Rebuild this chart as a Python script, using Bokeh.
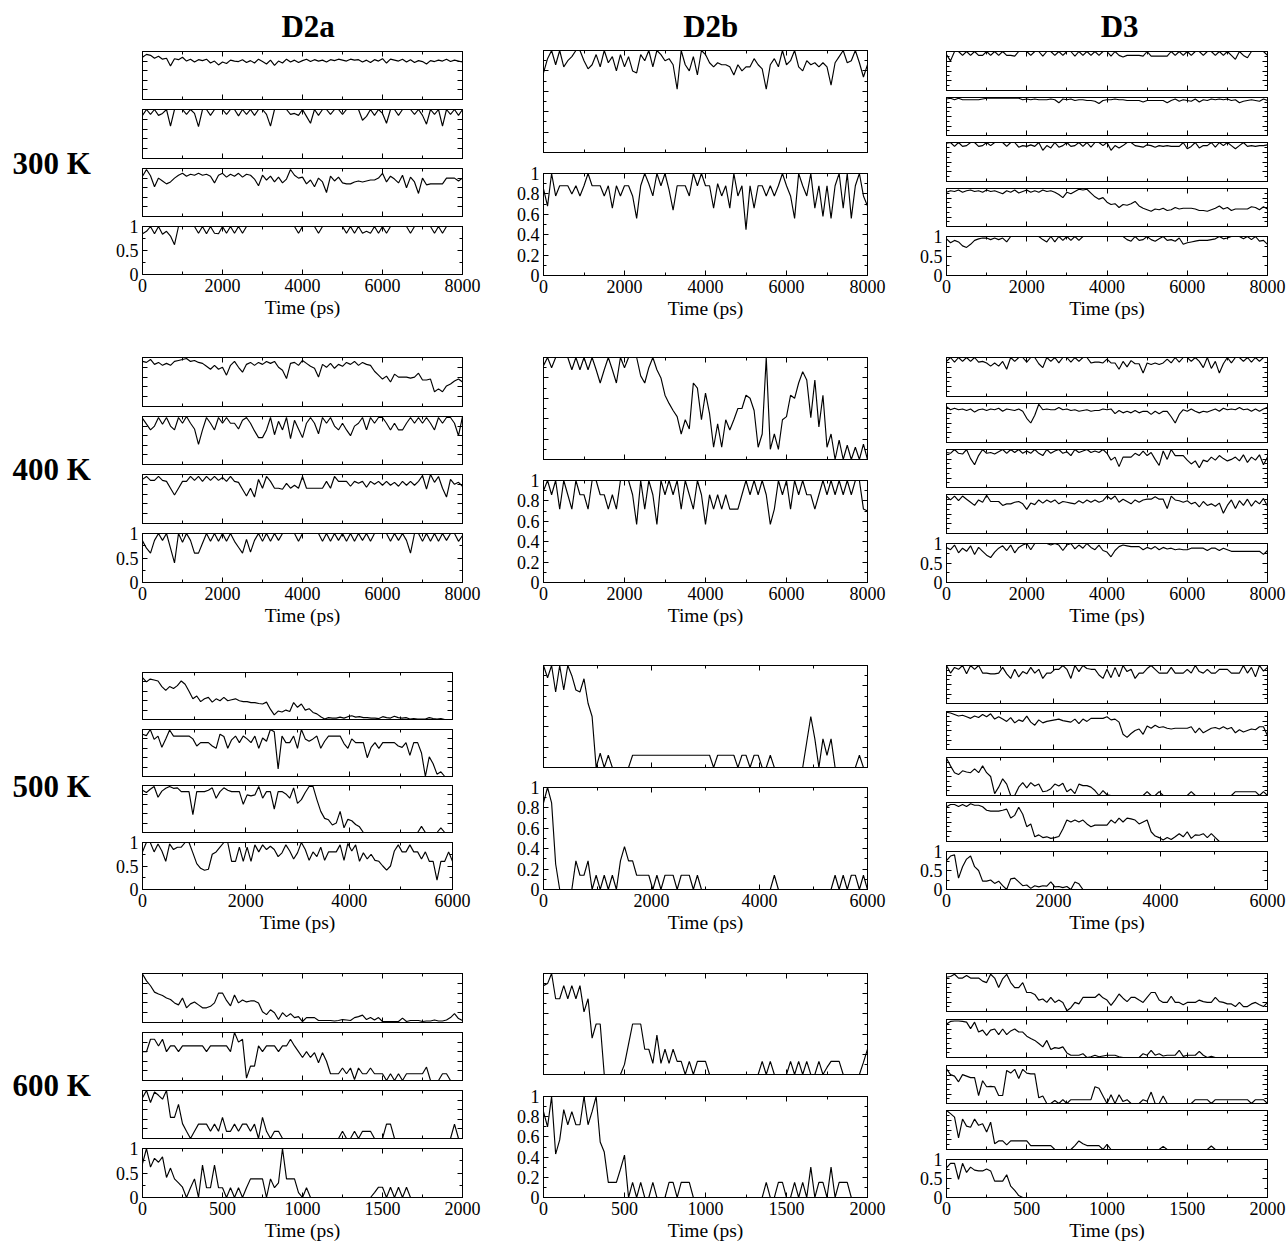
from bokeh.plotting import figure
from bokeh.layouts import row, column
from bokeh.models import (Range1d, LinearAxis, FixedTicker, Label, CustomJSTickFormatter,
                          CustomLabelingPolicy)
from bokeh.embed import file_html
from bokeh.resources import INLINE

# ------------------------------------------------------------------ data
TEMPS = ["300 K", "400 K", "500 K", "600 K"]
COLUMN_TITLES = ["D2a", "D2b", "D3"]
T_END = [8000, 8000, 6000, 2000]          # ps, x-axis end per temperature
T_STEP = [100, 100, 75, 25]               # ps between stored samples
X_MAJOR = {8000: [0, 2000, 4000, 6000, 8000], 6000: [0, 2000, 4000, 6000], 2000: [0, 500, 1000, 1500, 2000]}
X_MINOR = {8000: [1000, 3000, 5000, 7000], 6000: [1000, 3000, 5000], 2000: [250, 750, 1250, 1750]}

# ---- 300 K
d2a_300_1 = [0.88,0.94,0.92,0.86,0.90,0.84,0.86,0.70,0.85,0.83,0.88,0.80,0.84,0.78,0.83,0.81,0.84,0.76,0.80,0.72,
             0.78,0.75,0.82,0.80,0.79,0.83,0.77,0.81,0.76,0.84,0.79,0.74,0.82,0.71,0.80,0.76,0.84,0.78,0.82,0.77,
             0.81,0.84,0.79,0.83,0.80,0.82,0.78,0.83,0.81,0.84,0.82,0.80,0.84,0.82,0.83,0.78,0.82,0.77,0.83,0.80,
             0.85,0.76,0.84,0.82,0.80,0.84,0.78,0.83,0.77,0.81,0.79,0.74,0.81,0.79,0.82,0.80,0.84,0.79,0.82,0.80,0.78]
d2a_300_2 = [0.88,1,0.9,1,0.88,0.92,1,0.66,1,1,1,0.9,1,0.92,0.65,1,1,0.88,1,1,
             1,0.9,1,1,0.87,1,0.9,1,0.88,1,1,0.9,0.66,1,1,1,1,0.9,0.92,0.88,
             1,0.86,0.72,1,0.88,1,1,0.9,1,1,0.9,1,1,1,1,0.78,0.86,1,0.88,1,
             0.92,0.72,1,1,0.88,1,1,1,0.9,1,0.88,0.7,1,0.9,1,0.66,1,0.9,1,0.88,1]
d2a_300_3 = [0.84,0.98,0.85,0.62,0.8,0.74,0.68,0.72,0.8,0.86,0.9,0.84,0.88,0.86,0.9,0.86,0.88,0.84,0.7,0.86,
             0.9,0.82,0.88,0.84,0.9,0.82,0.88,0.86,0.78,0.64,0.86,0.76,0.84,0.72,0.82,0.7,0.78,0.98,0.86,0.8,
             0.82,0.68,0.76,0.62,0.8,0.72,0.5,0.84,0.74,0.82,0.7,0.68,0.68,0.72,0.74,0.72,0.74,0.76,0.76,0.8,
             0.9,0.72,0.84,0.78,0.7,0.86,0.6,0.82,0.72,0.48,0.8,0.66,0.68,0.68,0.68,0.68,0.8,0.8,0.8,0.74,0.8]
d2a_300_4 = [0.85,0.9,1,0.85,1,0.84,0.9,0.8,0.62,1,1,1,1,1,0.86,1,0.85,1,0.86,0.85,
             1,0.86,1,0.86,1,0.86,1,1,1,1,1,1,1,1,1,1,1,1,1,0.86,
             1,1,1,1,0.86,1,1,1,1,1,1,0.86,1,0.86,1,0.86,0.9,0.86,1,0.86,
             1,0.86,1,1,1,1,1,0.86,1,1,1,1,1,0.86,1,0.86,1,1,1,1,1]
d2b_300_1 = [0.78,0.92,1,0.86,1,0.84,0.9,0.94,1,1,0.9,0.82,0.86,0.96,0.84,1,0.88,0.94,0.8,0.96,
             0.84,0.94,0.8,0.78,0.96,0.9,1,0.84,1,0.96,0.9,0.92,0.86,0.62,1,0.86,0.8,0.94,0.76,1,
             0.96,0.88,0.84,0.88,0.86,0.86,0.84,0.76,0.86,0.8,0.84,0.84,0.92,0.86,0.82,0.62,0.86,0.92,0.84,1,
             0.86,0.9,1,0.84,0.8,0.9,0.86,0.88,0.84,0.88,0.84,0.66,0.88,0.94,1,0.88,0.9,1,0.88,0.74,0.86]
d2b_300_2 = [0.85,0.68,1,0.78,0.88,0.88,0.88,0.8,0.88,0.78,0.88,1,0.88,0.88,0.88,0.78,0.88,0.66,0.88,0.78,
             0.88,0.88,0.78,0.56,0.88,1,0.9,0.78,1,0.88,1,0.84,0.64,0.88,0.88,0.88,0.78,1,0.88,1,
             0.88,0.88,0.66,0.9,0.78,0.88,0.66,1,0.78,0.88,0.45,0.88,0.66,0.88,0.88,0.78,0.88,0.78,0.88,1,
             0.88,0.78,0.56,1,0.88,0.78,1,0.66,0.88,0.58,0.88,0.56,0.88,1,0.66,1,0.56,0.88,1,0.78,0.68]
d3_300_1 = [0.92,0.76,1,1,0.9,1,0.9,1,0.9,0.9,1,0.9,1,0.9,1,0.9,0.9,0.88,1,1,
            1,0.9,1,1,0.88,1,1,0.9,1,0.9,1,1,0.88,1,0.9,1,0.9,1,0.9,1,
            1,0.88,1,0.9,0.86,0.9,0.9,0.9,0.9,0.88,1,0.88,0.88,0.88,0.88,0.88,1,0.9,1,0.9,
            1,0.9,1,1,0.9,1,1,0.9,1,0.9,1,0.9,0.8,1,0.9,0.84,1,1,1,1,0.9]
d3_300_2 = [0.96,0.98,0.94,0.98,0.94,0.94,0.94,0.94,0.94,0.96,0.98,0.98,0.98,0.98,0.98,0.98,0.98,0.98,0.98,0.94,
            0.96,0.94,0.96,0.94,0.94,0.94,0.96,0.94,0.86,0.96,0.94,0.96,0.92,0.94,0.94,0.92,0.92,0.9,0.84,0.92,
            0.94,0.94,0.96,0.94,0.94,0.92,0.92,0.92,0.92,0.88,0.92,0.92,0.92,0.92,0.92,0.86,0.92,0.96,0.9,0.94,
            0.92,0.9,0.96,0.88,0.94,0.92,0.96,0.94,0.96,0.94,0.96,0.92,0.94,0.86,0.9,0.92,0.94,0.92,0.9,0.96,0.92]
d3_300_3 = [0.98,1,0.9,1,0.9,0.92,1,1,0.9,0.92,1,0.92,1,1,1,0.9,1,1,0.88,0.92,
            0.9,0.94,0.9,1,0.8,0.92,0.86,1,0.88,0.92,1,0.9,0.92,1,0.9,1,0.88,1,1,0.92,
            1,0.8,0.92,0.86,0.92,1,1,0.92,0.9,0.88,0.94,0.92,0.88,0.92,0.9,0.92,0.9,0.9,0.9,1,
            0.84,0.9,1,0.86,0.92,0.92,1,0.88,1,0.92,1,0.92,0.84,0.92,1,0.9,0.92,0.9,0.92,0.92,0.94]
d3_300_4 = [0.9,0.94,0.92,0.96,0.9,0.94,0.96,0.92,0.94,0.9,0.96,0.92,0.94,0.9,0.86,0.94,0.9,0.96,0.88,0.92,
            0.96,0.9,0.94,0.9,0.96,0.92,0.94,0.9,0.84,0.76,0.9,0.86,0.92,0.98,0.96,0.98,0.88,0.78,0.72,0.76,
            0.64,0.58,0.6,0.5,0.58,0.56,0.6,0.66,0.54,0.48,0.44,0.4,0.46,0.44,0.48,0.42,0.44,0.5,0.46,0.48,
            0.48,0.48,0.46,0.42,0.42,0.4,0.44,0.48,0.54,0.46,0.5,0.42,0.46,0.46,0.46,0.46,0.52,0.5,0.44,0.52,0.46]
d3_300_5 = [0.94,0.84,0.9,0.86,0.76,0.72,0.8,0.9,0.94,0.96,0.96,0.92,0.96,0.92,0.96,0.86,1,1,1,1,
            1,1,1,1,0.92,0.86,1,0.86,1,0.9,1,0.9,1,0.9,1,1,1,1,1,1,
            1,1,1,1,1,0.92,0.88,1,0.9,0.92,1,0.92,0.88,0.94,1,0.9,0.92,0.88,0.96,0.8,
            0.84,0.86,0.88,0.9,0.9,0.9,0.92,0.94,1,0.94,0.96,1,1,1,0.94,1,0.92,1,0.88,0.9,0.8]

# ---- 400 K
d2a_400_1 = [0.92,0.9,0.96,0.86,0.9,0.84,0.88,0.84,0.92,0.94,0.96,0.98,0.92,0.94,0.9,0.88,0.82,0.76,0.84,0.76,
             0.8,0.64,0.84,0.92,0.8,0.7,0.86,0.9,0.84,0.9,0.86,0.92,0.88,0.92,0.8,0.74,0.57,0.88,0.9,0.84,
             0.94,0.88,0.82,0.78,0.6,0.86,0.8,0.88,0.78,0.86,0.82,0.9,0.86,0.92,0.84,0.9,0.86,0.84,0.72,0.64,
             0.56,0.62,0.5,0.66,0.6,0.6,0.6,0.58,0.6,0.68,0.54,0.54,0.56,0.3,0.36,0.3,0.42,0.46,0.52,0.56,0.5]
d2a_400_2 = [0.96,0.84,0.72,0.8,0.98,0.84,0.98,0.8,0.72,0.98,0.86,1,0.86,0.74,0.42,0.72,0.98,0.86,0.72,0.98,
             0.86,0.98,0.86,0.86,0.74,0.92,0.98,0.86,0.7,0.56,0.56,0.72,0.98,0.62,0.9,0.72,0.98,0.54,0.92,0.74,
             0.56,0.86,0.98,0.86,0.64,0.98,0.86,0.98,0.8,0.72,0.86,0.72,0.6,0.8,0.86,0.98,0.72,0.98,0.86,0.98,
             0.98,0.86,0.72,0.86,0.72,0.72,0.86,0.98,0.86,0.98,0.86,0.98,0.86,0.72,0.98,0.86,0.98,0.98,0.86,0.6,1]
d2a_400_3 = [0.9,0.96,0.88,0.88,0.96,0.88,0.86,0.72,0.58,0.72,0.86,0.86,0.96,0.88,0.96,0.86,0.96,0.88,0.96,0.88,
             0.94,0.86,0.96,0.86,0.84,0.7,0.56,0.72,0.54,0.9,0.72,0.96,0.86,0.72,0.72,0.7,0.82,0.72,0.78,0.72,
             0.96,0.72,0.72,0.72,0.72,0.72,0.86,0.72,0.96,0.86,0.86,0.86,0.76,0.86,0.82,0.86,0.74,0.86,0.8,0.86,
             0.78,0.86,0.78,0.84,0.76,0.86,0.78,0.86,0.78,0.86,0.98,0.7,1,0.84,0.96,0.72,0.54,0.9,0.8,0.84,0.76]
d2a_400_4 = [0.85,0.7,0.6,0.86,1,0.86,1,0.7,0.4,1,0.82,1,0.86,0.6,0.6,0.8,1,0.84,1,0.84,
             1,0.84,1,0.84,0.72,0.6,0.88,0.62,0.86,1,0.84,1,0.84,1,0.86,1,1,1,1,0.84,
             1,1,1,1,1,0.84,1,0.84,1,0.86,1,0.84,1,0.84,1,0.86,1,0.84,1,1,
             1,1,0.84,1,0.86,1,0.86,0.6,1,1,0.84,1,0.84,1,0.84,1,0.86,1,1,0.84,0.96]
d2b_400_1 = [0.92,1,0.9,1,1,1,1,0.88,1,0.88,1,0.88,1,0.88,0.75,0.88,1,0.88,0.75,1,
             0.9,1,1,1,0.82,0.75,0.9,1,0.88,0.8,0.63,0.55,0.48,0.42,0.25,0.39,0.3,0.75,0.7,0.39,
             0.65,0.45,0.12,0.35,0.12,0.39,0.29,0.39,0.5,0.5,0.63,0.6,0.48,0.12,0.25,1.0,0.1,0.25,0.1,0.39,
             0.42,0.63,0.6,0.75,0.86,0.78,0.41,0.78,0.32,0.63,0.12,0.25,0.0,0.19,0.0,0.14,0.0,0.12,0.0,0.15,0.0]
d2b_400_2 = [0.9,1,0.86,1,0.72,1,0.86,0.72,1,0.86,0.86,0.72,1,1,0.86,0.86,0.72,0.86,0.72,1,
             1,1,0.86,0.57,1,0.72,1,0.86,0.57,1,0.86,1,0.86,1,0.72,1,0.86,0.72,1,0.86,
             0.57,0.86,0.72,0.86,0.72,0.86,0.72,0.72,0.72,0.86,1,0.86,1,0.86,1,0.86,0.57,0.72,1,0.86,
             1,0.72,1,0.86,1,0.86,0.86,0.72,0.86,1,0.86,1,0.86,1,0.86,1,0.86,1,1,0.72,0.7]
d3_400_1 = [0.9,1,0.88,1,0.9,1,0.9,1,0.88,0.9,0.86,0.78,0.86,0.78,0.9,0.7,1,0.9,1,1,
            0.88,1,1,0.84,0.74,1,0.9,1,0.86,1,1,0.88,1,0.9,1,1,0.86,0.88,0.88,0.86,
            0.96,0.86,0.86,0.7,0.9,0.76,0.92,0.84,0.84,0.6,0.86,0.82,0.86,0.82,0.86,0.96,0.86,1,0.88,1,
            1,0.9,1,0.9,0.74,1,0.72,0.9,0.6,0.84,1,0.86,1,1,0.9,1,0.88,1,0.9,1,1]
d3_400_2 = [0.92,0.84,0.88,0.84,0.86,0.82,0.86,0.78,0.84,0.86,0.82,0.86,0.84,0.88,0.8,0.86,0.84,0.82,0.86,0.8,
            0.62,0.5,0.7,0.98,0.84,0.86,0.84,0.84,0.9,0.84,0.86,0.82,0.84,0.8,0.82,0.84,0.8,0.82,0.82,0.86,
            0.84,0.86,0.74,0.82,0.76,0.8,0.76,0.82,0.76,0.8,0.8,0.72,0.8,0.74,0.8,0.8,0.66,0.5,0.72,0.84,
            0.8,0.86,0.8,0.76,0.8,0.78,0.82,0.86,0.8,0.88,0.84,0.86,0.84,0.9,0.84,0.86,0.8,0.86,0.8,0.86,0.9]
d3_400_3 = [0.92,0.9,1,0.9,0.88,1,0.76,0.6,0.84,1,0.9,0.92,0.88,0.94,1,0.9,1,0.92,1,0.9,
            0.96,0.9,1,0.9,0.84,1,0.9,0.96,1,0.9,0.94,0.84,1,0.92,0.96,1,0.92,0.96,0.92,1,
            0.9,0.72,0.8,0.55,0.8,0.8,0.8,0.9,0.84,0.96,0.84,0.92,0.74,0.58,0.96,0.74,1,0.84,0.84,0.84,
            0.72,0.62,0.7,0.52,0.72,0.68,0.8,0.72,0.84,0.76,0.7,0.74,0.8,0.7,0.86,0.66,0.8,0.72,0.86,0.6,0.8]
d3_400_4 = [0.96,0.86,0.96,0.84,0.96,0.88,0.8,0.72,0.86,0.8,0.98,0.82,0.82,0.82,0.72,0.76,0.76,0.8,0.82,0.76,
            0.62,0.78,0.74,0.86,0.78,0.86,0.8,0.86,0.76,0.82,0.8,0.78,0.76,0.84,0.78,0.86,0.8,0.86,0.8,0.84,
            0.96,0.88,0.96,0.8,0.88,0.82,0.76,0.86,0.8,0.86,0.88,0.88,0.94,0.88,0.88,0.64,0.96,0.86,0.84,0.8,
            0.84,0.76,0.8,0.68,0.82,0.72,0.76,0.7,0.78,0.52,0.72,0.86,0.64,0.84,0.72,0.88,0.7,0.84,0.76,0.9,0.7]
d3_400_5 = [0.9,0.84,0.96,0.76,0.88,0.8,0.94,0.72,0.9,0.8,0.7,0.64,0.78,0.88,0.94,0.82,0.96,0.76,0.9,0.96,
            1,0.84,1,1,1,1,0.96,1,0.96,0.82,0.96,1,0.86,0.96,0.88,1,0.9,0.84,0.96,0.82,
            0.78,0.66,0.82,0.92,0.96,0.94,0.92,0.92,0.92,0.84,0.9,0.86,0.92,0.84,0.9,0.86,0.88,0.84,0.86,0.84,
            0.84,0.88,0.88,0.88,0.88,0.82,0.88,0.88,0.82,0.88,0.84,0.8,0.8,0.8,0.8,0.8,0.8,0.8,0.8,0.72,0.82]

# ---- 500 K
d2a_500_1 = [0.89,0.8,0.86,0.84,0.82,0.7,0.62,0.7,0.66,0.72,0.82,0.75,0.6,0.44,0.5,0.38,0.44,0.47,0.37,0.44,
             0.4,0.47,0.4,0.42,0.44,0.4,0.38,0.38,0.36,0.36,0.34,0.33,0.37,0.22,0.1,0.18,0.16,0.2,0.17,0.36,
             0.26,0.33,0.2,0.23,0.15,0.12,0.06,0.01,0.04,0.03,0.03,0.05,0.03,0.06,0.08,0.05,0.06,0.04,0.04,0.03,
             0.03,0.02,0.06,0.04,0.03,0.07,0.04,0.03,0.04,0.01,0.02,0.01,0.01,0.01,0.04,0.02,0.01,0.02,0.0,0.0,0.0]
d2a_500_2 = [0.9,0.87,1.0,0.79,0.86,0.62,0.8,0.99,0.86,0.86,0.86,0.86,0.86,0.8,0.65,0.72,0.72,0.72,0.65,0.6,
             0.9,0.85,0.6,0.78,0.86,0.72,0.86,0.8,0.72,0.86,0.6,0.82,0.75,1.0,0.95,0.16,0.86,0.72,0.72,0.86,
             0.6,1.0,0.8,0.75,0.8,0.86,0.6,0.75,0.86,0.86,0.86,0.86,0.7,0.6,0.8,0.72,0.72,0.72,0.4,0.62,
             0.72,0.6,0.72,0.72,0.72,0.72,0.65,0.62,0.72,0.45,0.72,0.72,0.5,0.0,0.42,0.27,0.05,0.1,0.0,0.0,0.0]
d2a_500_3 = [0.9,0.85,0.92,0.98,0.75,0.88,0.94,0.98,0.94,0.95,0.87,0.87,0.87,0.38,0.87,0.87,0.87,0.9,0.95,0.73,
             0.87,0.95,0.9,0.87,0.87,0.87,0.6,0.8,0.78,0.8,0.98,0.73,0.87,0.87,0.5,0.87,0.87,0.82,0.73,0.95,
             0.62,0.7,0.85,0.98,0.98,0.7,0.45,0.3,0.27,0.16,0.2,0.45,0.1,0.28,0.25,0.17,0.12,0.0,0.0,0.0,
             0.0,0.0,0.0,0.0,0.0,0.0,0.0,0.0,0.0,0.0,0.0,0.0,0.13,0.0,0.0,0.0,0.0,0.1,0.0,0.0,0.0]
d2a_500_4 = [0.8,1.0,1.0,0.8,0.97,0.82,0.6,0.97,0.85,0.9,0.9,1.0,1.0,0.78,0.55,0.45,0.41,0.43,0.75,0.8,
             0.9,1.0,1.0,0.6,0.6,0.9,0.6,0.9,0.6,0.95,0.8,0.95,0.85,0.92,0.85,0.7,0.78,0.95,0.82,0.65,
             0.78,1.0,0.85,0.62,0.8,0.7,0.9,0.62,0.8,0.8,0.8,0.95,0.62,0.98,0.82,0.95,0.6,0.78,0.65,0.75,
             0.62,0.6,0.5,0.41,0.5,0.82,0.95,0.8,0.8,0.95,0.8,0.8,0.65,0.8,0.6,0.6,0.2,0.6,0.6,0.8,0.6]
d2b_500_1 = [1.0,0.88,1.0,0.74,1.0,0.76,1.0,0.9,0.76,0.74,0.87,0.63,0.5,0.0,0.14,0.0,0.12,0.0,0.0,0.0,
             0.0,0.0,0.12,0.12,0.12,0.12,0.12,0.12,0.12,0.12,0.12,0.12,0.12,0.12,0.12,0.12,0.12,0.12,0.12,0.12,
             0.12,0.12,0.0,0.12,0.12,0.12,0.12,0.12,0.0,0.12,0.12,0.0,0.12,0.12,0.0,0.0,0.12,0.0,0.0,0.0,
             0.0,0.0,0.0,0.0,0.0,0.25,0.5,0.28,0.0,0.28,0.12,0.28,0.0,0.0,0.0,0.0,0.0,0.0,0.12,0.0,0.0]
d2b_500_2 = [0.85,1.0,0.85,0.25,0.0,0.0,0.0,0.0,0.28,0.14,0.14,0.28,0.0,0.14,0.0,0.14,0.0,0.14,0.0,0.28,
             0.42,0.28,0.28,0.14,0.14,0.14,0.14,0.0,0.14,0.0,0.14,0.14,0.14,0.0,0.14,0.14,0.14,0.0,0.14,0.0,
             0.0,0.0,0.0,0.0,0.0,0.0,0.0,0.0,0.0,0.0,0.0,0.0,0.0,0.0,0.0,0.0,0.0,0.14,0.0,0.0,
             0.0,0.0,0.0,0.0,0.0,0.0,0.0,0.0,0.0,0.0,0.0,0.0,0.14,0.0,0.14,0.0,0.14,0.14,0.0,0.14,0.0]
d3_500_1 = [1.0,0.8,0.95,0.9,1.0,0.78,1.0,0.9,1.0,0.8,0.8,0.78,0.78,0.8,0.95,0.78,0.66,0.9,0.7,0.84,
            0.78,0.95,0.8,0.9,0.66,0.8,0.8,0.9,0.9,1.0,0.9,0.66,1.0,0.84,1.0,0.92,0.9,0.9,0.75,0.66,
            0.9,0.68,0.95,0.7,1.0,0.84,0.9,0.66,0.8,0.8,0.92,1.0,0.9,0.8,0.8,0.8,0.95,0.8,0.8,0.8,
            0.9,0.8,1.0,0.84,0.8,0.9,0.8,0.8,0.9,0.9,0.9,0.8,0.8,0.8,1.0,0.8,0.95,0.7,1.0,0.85,0.95]
d3_500_2 = [0.98,0.96,0.92,0.88,0.9,0.86,0.82,0.88,0.84,0.92,0.86,0.94,0.8,0.86,0.8,0.74,0.84,0.7,0.78,0.74,
            0.88,0.72,0.64,0.78,0.7,0.74,0.76,0.78,0.8,0.76,0.74,0.72,0.8,0.68,0.8,0.74,0.82,0.82,0.82,0.82,
            0.86,0.78,0.8,0.72,0.4,0.32,0.42,0.5,0.54,0.4,0.62,0.56,0.64,0.58,0.6,0.56,0.54,0.56,0.56,0.56,
            0.56,0.6,0.44,0.56,0.44,0.5,0.56,0.58,0.54,0.6,0.54,0.58,0.44,0.52,0.46,0.5,0.54,0.52,0.6,0.6,0.36]
d3_500_3 = [0.98,0.78,0.6,0.55,0.65,0.62,0.6,0.7,0.6,0.78,0.6,0.5,0.05,0.22,0.44,0.3,0.0,0.0,0.22,0.34,
            0.2,0.34,0.25,0.3,0.1,0.12,0.18,0.3,0.25,0.32,0.1,0.17,0.05,0.3,0.26,0.26,0.22,0.13,0.0,0.13,
            0.02,0.0,0.0,0.0,0.0,0.0,0.0,0.0,0.0,0.0,0.1,0.0,0.0,0.1,0.0,0.0,0.0,0.0,0.0,0.0,
            0.0,0.1,0.0,0.0,0.0,0.0,0.0,0.0,0.0,0.0,0.0,0.0,0.1,0.1,0.1,0.1,0.1,0.1,0.0,0.1,0.0]
d3_500_4 = [0.89,0.95,0.95,0.9,0.95,0.9,0.97,0.93,0.93,0.89,0.8,0.78,0.78,0.78,0.8,0.83,0.6,0.67,0.88,0.7,
            0.38,0.45,0.12,0.17,0.1,0.12,0.08,0.1,0.13,0.32,0.55,0.5,0.55,0.5,0.55,0.45,0.38,0.42,0.42,0.42,
            0.42,0.55,0.47,0.6,0.5,0.6,0.58,0.55,0.45,0.5,0.55,0.25,0.14,0.1,0.04,0.1,0.05,0.12,0.2,0.12,
            0.25,0.08,0.17,0.16,0.2,0.1,0.2,0.1,0.0,0.0,0.0,0.0,0.0,0.0,0.0,0.0,0.0,0.0,0.0,0.0,0.0]
d3_500_5 = [0.76,0.88,0.91,0.3,0.6,0.8,0.88,0.6,0.5,0.22,0.22,0.25,0.16,0.22,0.1,0.0,0.28,0.3,0.2,0.1,
            0.12,0.03,0.1,0.07,0.1,0.09,0.2,0.07,0.08,0.05,0.08,0.0,0.2,0.15,0.0]

# ---- 600 K
d2a_600_1 = [0.99,0.85,0.75,0.62,0.58,0.55,0.5,0.47,0.4,0.36,0.5,0.3,0.38,0.42,0.36,0.3,0.3,0.33,0.4,0.6,
             0.6,0.45,0.34,0.56,0.4,0.46,0.42,0.44,0.44,0.4,0.22,0.16,0.26,0.2,0.06,0.2,0.12,0.18,0.1,0.12,
             0.02,0.1,0.1,0.1,0.04,0.04,0.04,0.04,0.03,0.04,0.06,0.05,0.04,0.1,0.12,0.15,0.06,0.1,0.05,0.1,
             0.02,0.02,0.02,0.02,0.02,0.09,0.02,0.04,0.04,0.04,0.02,0.03,0.03,0.05,0.03,0.03,0.05,0.1,0.18,0.08,0.04]
d2a_600_2 = [0.6,0.6,0.86,0.86,0.72,0.86,0.6,0.72,0.72,0.6,0.72,0.72,0.72,0.72,0.72,0.72,0.6,0.72,0.72,0.72,
             0.72,0.72,0.6,1.0,0.8,0.86,0.05,0.3,0.3,0.72,0.6,0.72,0.72,0.72,0.6,0.72,0.72,0.86,0.72,0.6,
             0.48,0.6,0.48,0.58,0.37,0.58,0.4,0.14,0.14,0.14,0.26,0.14,0.26,0.02,0.26,0.14,0.14,0.26,0.14,0.14,
             0.14,0.0,0.14,0.0,0.14,0.0,0.14,0.14,0.14,0.14,0.14,0.28,0.0,0.0,0.0,0.14,0.14,0.0,0.0,0.0,0.0]
d2a_600_3 = [0.85,1.0,0.75,0.97,0.9,0.82,1.0,0.44,0.44,0.71,0.31,0.15,0.0,0.15,0.3,0.3,0.3,0.15,0.3,0.15,
             0.44,0.15,0.15,0.3,0.15,0.3,0.3,0.15,0.3,0.0,0.44,0.15,0.0,0.15,0.15,0.0,0.0,0.0,0.0,0.0,
             0.0,0.0,0.0,0.0,0.0,0.0,0.0,0.0,0.0,0.0,0.15,0.0,0.0,0.15,0.0,0.15,0.15,0.15,0.0,0.0,
             0.0,0.3,0.3,0.0,0.0,0.0,0.0,0.0,0.0,0.0,0.0,0.0,0.0,0.0,0.0,0.0,0.0,0.0,0.3,0.0,0.0]
d2a_600_4 = [0.69,1.0,0.62,0.8,0.72,0.83,0.41,0.6,0.38,0.3,0.21,0.0,0.2,0.38,0.0,0.66,0.2,0.2,0.66,0.2,
             0.2,0.0,0.2,0.0,0.2,0.0,0.2,0.38,0.38,0.38,0.38,0.0,0.38,0.2,0.3,1.0,0.38,0.38,0.38,0.1,
             0.0,0.2,0.0,0.0,0.0,0.0,0.0,0.0,0.0,0.0,0.0,0.0,0.0,0.0,0.0,0.0,0.0,0.0,0.1,0.21,
             0.21,0.0,0.21,0.0,0.21,0.0,0.21,0.0,0.0,0.0,0.0,0.0,0.0,0.0,0.0,0.0,0.0,0.0,0.0,0.0,0.0]
d2b_600_1 = [0.88,0.9,1.0,0.75,0.75,0.88,0.75,0.88,0.75,0.88,0.62,0.75,0.36,0.5,0.5,0.0,0.0,0.0,0.0,0.0,
             0.1,0.3,0.5,0.5,0.5,0.25,0.25,0.11,0.39,0.11,0.25,0.11,0.25,0.13,0.13,0.0,0.13,0.0,0.13,0.13,
             0.13,0.0,0.0,0.0,0.0,0.0,0.0,0.0,0.0,0.0,0.0,0.0,0.0,0.0,0.13,0.0,0.13,0.0,0.0,0.0,
             0.0,0.13,0.0,0.13,0.0,0.13,0.0,0.0,0.13,0.0,0.07,0.13,0.13,0.13,0.0,0.0,0.0,0.0,0.0,0.12,0.25]
d2b_600_2 = [0.85,0.7,1.0,0.43,0.57,0.87,0.72,0.85,0.72,0.72,1.0,0.72,0.85,1.0,0.55,0.45,0.15,0.15,0.15,0.28,
             0.42,0.0,0.15,0.0,0.15,0.0,0.0,0.15,0.0,0.0,0.0,0.15,0.15,0.0,0.15,0.15,0.15,0.0,0.0,0.0,
             0.0,0.0,0.0,0.0,0.0,0.0,0.0,0.0,0.0,0.0,0.0,0.0,0.0,0.0,0.0,0.15,0.0,0.0,0.15,0.15,
             0.0,0.0,0.15,0.0,0.15,0.0,0.3,0.0,0.15,0.15,0.0,0.3,0.0,0.15,0.15,0.15,0.0,0.0,0.0,0.0,0.0]
d3_600_1 = [0.9,0.92,0.98,0.88,0.88,0.95,0.88,0.88,0.88,0.8,0.76,0.98,0.88,0.63,0.86,0.98,0.76,0.63,0.63,0.76,
            0.5,0.5,0.45,0.3,0.33,0.24,0.37,0.24,0.3,0.24,0.02,0.1,0.24,0.2,0.37,0.37,0.37,0.37,0.46,0.36,
            0.3,0.16,0.3,0.46,0.35,0.26,0.37,0.37,0.3,0.24,0.37,0.5,0.5,0.3,0.24,0.24,0.4,0.24,0.24,0.18,
            0.24,0.24,0.24,0.3,0.26,0.24,0.24,0.37,0.26,0.24,0.2,0.2,0.13,0.24,0.13,0.13,0.2,0.24,0.18,0.13,0.24]
d3_600_2 = [0.88,0.95,0.96,0.96,0.95,0.93,0.76,0.93,0.67,0.72,0.58,0.72,0.75,0.6,0.75,0.6,0.7,0.75,0.67,0.67,
            0.56,0.5,0.45,0.37,0.28,0.45,0.21,0.26,0.24,0.28,0.12,0.06,0.06,0.06,0.1,0.0,0.02,0.06,0.02,0.04,
            0.06,0.06,0.06,0.02,0.0,0.0,0.0,0.0,0.0,0.1,0.06,0.19,0.06,0.1,0.04,0.06,0.06,0.06,0.19,0.03,
            0.06,0.06,0.06,0.16,0.06,0.0,0.03,0.0,0.0,0.0,0.0,0.0,0.0,0.0,0.0,0.0,0.0,0.0,0.0,0.0,0.0]
d3_600_3 = [0.91,0.76,0.72,0.57,0.76,0.72,0.68,0.68,0.21,0.6,0.44,0.45,0.44,0.21,0.21,0.87,0.8,0.9,0.66,0.9,
            0.8,0.78,0.78,0.15,0.2,0.0,0.0,0.08,0.0,0.1,0.0,0.1,0.1,0.1,0.1,0.1,0.1,0.44,0.4,0.2,
            0.0,0.23,0.0,0.23,0.05,0.1,0.0,0.0,0.0,0.1,0.06,0.3,0.0,0.0,0.2,0.0,0.0,0.0,0.0,0.0,
            0.0,0.0,0.1,0.1,0.1,0.1,0.0,0.1,0.1,0.1,0.1,0.1,0.1,0.1,0.1,0.1,0.0,0.1,0.1,0.1,0.0]
d3_600_4 = [1.0,0.92,0.83,0.3,0.78,0.6,0.57,0.78,0.62,0.66,0.45,0.7,0.15,0.22,0.22,0.12,0.22,0.22,0.22,0.22,
            0.22,0.1,0.1,0.1,0.1,0.1,0.1,0.0,0.0,0.0,0.0,0.0,0.1,0.22,0.15,0.1,0.1,0.1,0.1,0.0,
            0.13,0.0,0.0,0.0,0.0,0.0,0.0,0.0,0.0,0.0,0.0,0.0,0.0,0.0,0.08,0.0,0.0,0.0,0.0,0.0,
            0.0,0.0,0.0,0.0,0.0,0.0,0.09,0.0,0.0,0.0,0.0,0.0,0.0,0.0,0.0,0.0,0.0,0.0,0.0,0.0,0.0]
d3_600_5 = [0.78,0.9,0.9,0.48,0.9,0.66,0.8,0.72,0.7,0.7,0.75,0.7,0.43,0.43,0.43,0.6,0.3,0.19,0.05,0.0,0.0]

SERIES = {
    "D2a": [[d2a_300_1, d2a_300_2, d2a_300_3, d2a_300_4],
            [d2a_400_1, d2a_400_2, d2a_400_3, d2a_400_4],
            [d2a_500_1, d2a_500_2, d2a_500_3, d2a_500_4],
            [d2a_600_1, d2a_600_2, d2a_600_3, d2a_600_4]],
    "D2b": [[d2b_300_1, d2b_300_2], [d2b_400_1, d2b_400_2],
            [d2b_500_1, d2b_500_2], [d2b_600_1, d2b_600_2]],
    "D3": [[d3_300_1, d3_300_2, d3_300_3, d3_300_4, d3_300_5],
           [d3_400_1, d3_400_2, d3_400_3, d3_400_4, d3_400_5],
           [d3_500_1, d3_500_2, d3_500_3, d3_500_4, d3_500_5],
           [d3_600_1, d3_600_2, d3_600_3, d3_600_4, d3_600_5]],
}

Y_TICKS_BOTTOM = {"D2a": ([0, 0.5, 1], [0.25, 0.75]),
                  "D2b": ([0, 0.2, 0.4, 0.6, 0.8, 1], [0.1, 0.3, 0.5, 0.7, 0.9]),
                  "D3": ([0, 0.5, 1], [0.25, 0.75])}
Y_TICKS_UPPER = {"D2a": ([0, 0.2, 0.4, 0.6, 0.8, 1], []),
                 "D2b": ([0, 0.2, 0.4, 0.6, 0.8, 1], [0.1, 0.3, 0.5, 0.7, 0.9]),
                 "D3": ([0, 0.25, 0.5, 0.75, 1], [0.125, 0.375, 0.625, 0.875])}

# ------------------------------------------------------------------ layout (pixels)
PAGE_W, PAGE_H = 1287, 1244
LABEL_W = 100
COL_X = {"D2a": (100, 500), "D2b": (500, 905), "D3": (905, 1287)}
FRAME_X = {"D2a": [(142, 462), (142, 462), (142, 452), (142, 462)],
           "D2b": [(543, 867)] * 4,
           "D3": [(946, 1267)] * 4}
# (top, bottom, gap, gap above the labelled panel)
FRAME_Y = {"D2a": [(51, 274, 10, 10), (357, 582, 10, 10), (672, 889, 9.5, 9.5), (973, 1197, 10, 10)],
           "D2b": [(50, 275, 21, 21), (357, 582, 21, 21), (665, 889, 20.5, 20.5), (973, 1197, 21, 21)],
           "D3": [(51, 275, 7, 10), (357, 582, 7, 10), (665, 889, 7.5, 10), (973, 1197, 7.5, 10)]}
TITLE_X = {"D2a": 307, "D2b": 709, "D3": 1111}
TITLE_Y = 26
TEMP_X = 12
TEMP_Y = [163, 469, 786, 1085]

FONT = "Liberation Serif"
TICK_FS = "18px"
LABEL_FS = "19.5px"
TITLE_FS = "31px"

fmt = CustomJSTickFormatter(code="return String(Math.round(tick * 1000) / 1000);")
no_labels = CustomLabelingPolicy(code="return new Set();")


def frames(top, bottom, gap, last_gap, n):
    h = (bottom - top - gap * (n - 2) - last_gap) / n if n > 1 else bottom - top
    out = []
    for i in range(n):
        y0 = top + i * h + (i * gap if i < n - 1 else (n - 2) * gap + last_gap)
        out.append((round(y0), round(y0 + h)))
    return out


def blank_fig(w, h):
    p = figure(width=w, height=h, output_backend="svg", toolbar_location=None, tools="",
               x_range=Range1d(0, w), y_range=Range1d(h, 0),
               x_axis_location=None, y_axis_location=None,
               min_border_left=0, min_border_right=0, min_border_top=0, min_border_bottom=0)
    p.outline_line_color = None
    p.xgrid.visible = False
    p.ygrid.visible = False
    p.background_fill_color = "white"
    p.border_fill_color = "white"
    return p


def style_axis(ax, labeled):
    ax.axis_line_color = "black"
    ax.axis_line_width = 1
    ax.major_tick_line_color = "black"
    ax.minor_tick_line_color = "black"
    ax.major_tick_in = 5
    ax.major_tick_out = 0
    ax.minor_tick_in = 3
    ax.minor_tick_out = 0
    ax.formatter = fmt
    if labeled:
        ax.major_label_text_font = FONT
        ax.major_label_text_font_size = TICK_FS
        ax.major_label_text_color = "black"
        ax.major_label_standoff = 4
    else:
        ax.major_label_text_font_size = "0px"
        ax.major_label_standoff = 0
        ax.major_label_policy = no_labels


def make_panel(w, h, bl, br, bt, bb, t_end, step, values, yt, bottom):
    p = figure(width=w, height=h, output_backend="svg", toolbar_location=None, tools="",
               x_range=Range1d(0, t_end), y_range=Range1d(0, 1),
               x_axis_location=None, y_axis_location=None,
               min_border_left=bl, min_border_right=br, min_border_top=bt, min_border_bottom=bb)
    p.xgrid.visible = False
    p.ygrid.visible = False
    p.outline_line_color = "black"
    p.outline_line_width = 1
    p.background_fill_color = "white"
    p.border_fill_color = "white"
    xt = FixedTicker(ticks=X_MAJOR[t_end], minor_ticks=X_MINOR[t_end])
    ytk = FixedTicker(ticks=yt[0], minor_ticks=yt[1])
    for side in ("below", "above", "left", "right"):
        ax = LinearAxis(ticker=xt if side in ("below", "above") else ytk)
        labeled = bottom and side in ("below", "left")
        style_axis(ax, labeled)
        if bottom and side == "below":
            ax.axis_label = "Time (ps)"
            ax.axis_label_text_font = FONT
            ax.axis_label_text_font_size = LABEL_FS
            ax.axis_label_text_font_style = "normal"
            ax.axis_label_text_color = "black"
            ax.axis_label_standoff = 2
        p.add_layout(ax, side)
    t = [i * step for i in range(len(values))]
    p.line(x=t, y=values, line_color="black", line_width=1.15)
    return p


def build_column(ci):
    name = COLUMN_TITLES[ci]
    x_lo, x_hi = COL_X[name]
    colw = x_hi - x_lo
    right_border = x_hi - max(fx1 for _, fx1 in FRAME_X[name])
    entries = []
    for b in range(4):
        top, bottom, gap, last_gap = FRAME_Y[name][b]
        ser = SERIES[name][b]
        for i, (T, B) in enumerate(frames(top, bottom, gap, last_gap, len(ser))):
            entries.append((b, i, len(ser), T, B))
    head_h = entries[0][3] - 4
    head = blank_fig(colw, head_h)
    head.add_layout(Label(x=TITLE_X[name] - x_lo, y=TITLE_Y, text=name, text_font=FONT,
                          text_font_size=TITLE_FS, text_font_style="bold", text_color="black",
                          text_align="center", text_baseline="middle"))
    children = [head]
    y_prev = head_h
    for k, (b, i, n, T, B) in enumerate(entries):
        if k + 1 < len(entries):
            nb, ni, nn, nT, _ = entries[k + 1]
            if nb != b:
                y_end = nT - 4
            elif ni == nn - 1:
                y_end = B + 1          # leave room for the labelled panel's top tick label
            else:
                y_end = (B + nT) // 2
        else:
            y_end = PAGE_H
        fx0, fx1 = FRAME_X[name][b]
        last = (i == n - 1)
        yt = Y_TICKS_BOTTOM[name] if last else Y_TICKS_UPPER[name]
        p = make_panel(fx1 + right_border - x_lo, y_end - y_prev, fx0 - x_lo, right_border,
                       T - y_prev, y_end - B, T_END[b], T_STEP[b], SERIES[name][b][i], yt, last)
        children.append(p)
        y_prev = y_end
    return column(children, spacing=0)


labels = blank_fig(LABEL_W, PAGE_H)
for b, txt in enumerate(TEMPS):
    labels.add_layout(Label(x=TEMP_X, y=TEMP_Y[b], text=txt, text_font=FONT, text_font_size=TITLE_FS,
                            text_font_style="bold", text_color="black",
                            text_align="left", text_baseline="middle"))

layout = row([labels] + [build_column(ci) for ci in range(3)], spacing=0)

open("out.html", "w").write(file_html(layout, INLINE))
